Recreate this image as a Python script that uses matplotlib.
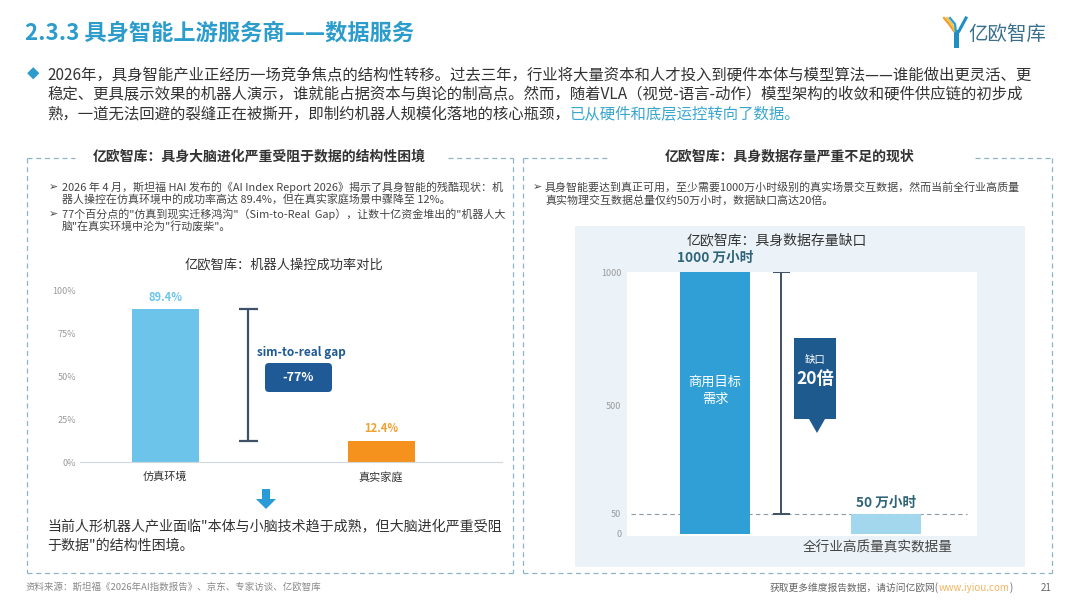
import matplotlib
matplotlib.use('Agg')
import matplotlib.pyplot as plt
import numpy as np
from matplotlib.transforms import Affine2D, blended_transform_factory
from matplotlib.patches import Rectangle, FancyBboxPatch, Polygon
from matplotlib.lines import Line2D

plt.rcParams['font.family'] = ['Noto Sans CJK SC', 'DejaVu Sans']

W, H = 1080, 608

# 左图：机器人操控成功率对比
sim_categories = ['仿真环境', '真实家庭']
sim_values = [89.4, 12.4]
sim_yticks = [0, 25, 50, 75, 100]

# 右图：具身数据存量缺口（万小时）
data_categories = ['商用目标\n需求', '全行业高质量真实数据量']
data_values = [1000, 50]
data_yticks = [0, 50, 500, 1000]

fig = plt.figure(figsize=(10.8, 6.08), dpi=100)
fig.patch.set_facecolor('white')
PX = Affine2D().scale(1 / W, -1 / H).translate(0, 1) + fig.transFigure
renderer = fig.canvas.get_renderer()


def txt(x, y, s, **kw):
    kw.setdefault('va', 'center')
    return fig.text(x, y, s, transform=PX, **kw)


def seq(x, y, pieces, **kw):
    # 依次排列不同颜色的文字片段
    for s, c in pieces:
        t = txt(x, y, s, color=c, ha='left', **kw)
        x += t.get_window_extent(renderer).width
    return x


def hline(x0, x1, y, **kw):
    fig.add_artist(Line2D([x0, x1], [y, y], transform=PX, **kw))


def vline(x, y0, y1, **kw):
    fig.add_artist(Line2D([x, x], [y0, y1], transform=PX, **kw))


def dashed_box(l, t, r, b, g0, g1):
    kw = dict(color='#8fb4c9', lw=0.9, ls=(0, (4, 3)))
    hline(l, g0, t, **kw)
    hline(g1, r, t, **kw)
    hline(l, r, b, **kw)
    vline(l, t, b, **kw)
    vline(r, t, b, **kw)


# 标题与logo
txt(25, 33, '2.3.3 具身智能上游服务商——数据服务', fontsize=16, fontweight='bold', color='#2b9ccb')
fig.add_artist(Rectangle((954, 30), 5, 18, transform=PX, color='#1f8fc2', lw=0))
for dx, c in [(0, '#f29a2e'), (3, '#f6c244'), (6, '#2a9fd6')]:
    fig.add_artist(Line2D([944 + dx, 949 + dx, 954 + dx * 0.3], [18, 24, 31], transform=PX, color=c, lw=1.6))
fig.add_artist(Line2D([966, 959], [18, 31], transform=PX, color='#1f8fc2', lw=2.2))
txt(968, 34, '亿欧智库', fontsize=14, color='#3a6f8c')

# 导语
txt(33, 75, '◆', fontsize=9, color='#2b9ccb', ha='center')
para = dict(fontsize=11.1)
seq(47, 75, [('2026年，具身智能产业正经历一场竞争焦点的结构性转移。过去三年，行业将大量资本和人才投入到硬件本体与模型算法——谁能做出更灵活、更', '#333333')], **para)
seq(47, 95, [('稳定、更具展示效果的机器人演示，谁就能占据资本与舆论的制高点。然而，随着VLA（视觉-语言-动作）模型架构的收敛和硬件供应链的初步成', '#333333')], **para)
seq(47, 114, [('熟，一道无法回避的裂缝正在被撕开，即制约机器人规模化落地的核心瓶颈，', '#333333'),
              ('已从硬件和底层运控转向了数据。', '#3aa6d0')], **para)

# 左侧框
dashed_box(27, 158, 513, 573, 75, 448)
txt(259, 156, '亿欧智库：具身大脑进化严重受阻于数据的结构性困境', fontsize=10, fontweight='bold', color='#333333', ha='center')
small = dict(fontsize=7.9, color='#444444')
for y, s in [(187, '2026 年 4 月，斯坦福 HAI 发布的《AI Index Report 2026》揭示了具身智能的残酷现状：机'),
             (214, '77个百分点的"仿真到现实迁移鸿沟"（Sim-to-Real  Gap），让数十亿资金堆出的"机器人大')]:
    txt(53, y, '➢', ha='center', **small)
    txt(62, y, s, **small)
txt(62, 199, '器人操控在仿真环境中的成功率高达 89.4%，但在真实家庭场景中骤降至 12%。', **small)
txt(62, 226, '脑"在真实环境中沦为"行动废柴"。', **small)
txt(284, 265, '亿欧智库：机器人操控成功率对比', fontsize=9.5, color='#333333', ha='center')

ax1 = fig.add_axes([80 / W, 1 - 462 / H, 422 / W, 171 / H])
x1 = np.arange(len(sim_values))
ax1.bar(x1, sim_values, width=0.31, color=['#6cc4ea', '#f5921e'], zorder=2)
ax1.set_xlim(-0.394, 1.56)
ax1.set_ylim(0, 100)
ax1.set_yticks(sim_yticks)
ax1.set_yticklabels([f'{v}%' for v in sim_yticks])
ax1.set_xticks(x1)
ax1.set_xticklabels(sim_categories)
for s in ['top', 'right', 'left']:
    ax1.spines[s].set_visible(False)
ax1.spines['bottom'].set_color('#cfd8dc')
ax1.tick_params(axis='y', length=0, labelsize=6.5, labelcolor='#9a9a9a', pad=3)
ax1.tick_params(axis='x', length=0, labelsize=8, labelcolor='#333333', pad=7)
ax1.patch.set_alpha(0)
for xi, v, c in zip(x1, sim_values, ['#6cc4ea', '#f0a030']):
    ax1.annotate(f'{v}%', (xi, v), xytext=(0, 4), textcoords='offset points',
                 ha='center', va='bottom', fontsize=8, fontweight='bold', color=c)
gap_x = 0.385
ax1.vlines(gap_x, sim_values[1], sim_values[0], color='#3d5266', lw=1.6)
ax1.hlines([sim_values[1], sim_values[0]], gap_x - 0.044, gap_x + 0.044, color='#3d5266', lw=1.6)
ax1.text(0.524, 0.643, 'sim-to-real gap', transform=ax1.transAxes, ha='center', va='center',
         fontsize=8.5, fontweight='bold', color='#1f5a96')
fig.add_artist(FancyBboxPatch((265, 363), 67, 29, boxstyle='round,pad=0,rounding_size=4',
                              transform=PX, color='#1f5a96', lw=0))
txt(298.5, 377.5, f'-{sim_values[0] - sim_values[1]:.0f}%', fontsize=9, fontweight='bold', color='white', ha='center')

# 向下箭头
fig.add_artist(Polygon([(262, 489), (270, 489), (270, 499), (276, 499), (266, 509), (256, 499), (262, 499)],
                       transform=PX, color='#2a9bd6', lw=0))
txt(47, 527, '当前人形机器人产业面临"本体与小脑技术趋于成熟，但大脑进化严重受阻', fontsize=10.1, color='#333333')
txt(47, 546, '于数据"的结构性困境。', fontsize=10.1, color='#333333')

# 右侧框
dashed_box(523, 158, 1052, 573, 610, 975)
txt(790, 156, '亿欧智库：具身数据存量严重不足的现状', fontsize=10, fontweight='bold', color='#333333', ha='center')
txt(537, 187, '➢', ha='center', **small)
txt(545, 187, '具身智能要达到真正可用，至少需要1000万小时级别的真实场景交互数据，然而当前全行业高质量', **small)
txt(545, 201, '真实物理交互数据总量仅约50万小时，数据缺口高达20倍。', **small)

fig.add_artist(Rectangle((575, 226), 450, 341, transform=PX, color='#ebf3f9', lw=0, zorder=0))
txt(777, 240, '亿欧智库：具身数据存量缺口', fontsize=10, color='#333333', ha='center')

ax2 = fig.add_axes([627 / W, 1 - 536 / H, 350 / W, 264 / H])
knots_v = [-10, 0, 50, 500, 1000, 1100]
knots_p = [-4, 0, 20, 128, 261, 288]
ax2.set_yscale('function', functions=(lambda v: np.interp(v, knots_v, knots_p),
                                      lambda p: np.interp(p, knots_p, knots_v)))
x2 = np.arange(len(data_values))
ax2.bar(x2, data_values, width=0.41, color=['#2f9fd6', '#a2d7ee'], zorder=2)
ax2.set_xlim(-0.515, 1.532)
ax2.set_ylim(-5, 1000)
ax2.set_yticks(data_yticks)
ax2.set_yticklabels([str(v) for v in data_yticks])
ax2.yaxis.set_minor_locator(matplotlib.ticker.NullLocator())
ax2.set_xticks([])
for s in ax2.spines.values():
    s.set_visible(False)
ax2.tick_params(axis='y', length=0, labelsize=6.5, labelcolor='#9a9a9a', pad=4)
ax2.axhline(data_values[1], xmin=0.01, xmax=0.97, color='#8a9aa6', lw=0.8, ls=(0, (4, 3)), zorder=1)
gx = 0.386
ax2.vlines(gx, data_values[1], data_values[0], color='#3d5266', lw=1.4, zorder=3)
ax2.hlines([data_values[1], data_values[0]], gx - 0.05, gx + 0.05, color='#3d5266', lw=1.4, zorder=3)
for xi, v, off in zip(x2, data_values, [5, 3]):
    ax2.annotate(f'{v} 万小时', (xi, v), xytext=(0, off), textcoords='offset points',
                 ha='center', va='bottom', fontsize=9.8, fontweight='bold', color='#2e6378')
bt = blended_transform_factory(ax2.transData, ax2.transAxes)
ax2.text(0, 0.55, data_categories[0], transform=bt, ha='center', va='center', fontsize=9.5,
         color='white', linespacing=1.4, zorder=4)
ax2.text(0.95, -0.045, data_categories[1], transform=bt, ha='center', va='center', fontsize=9.8,
         color='#444444', clip_on=False)

# 缺口标注
fig.add_artist(Polygon([(794, 338), (836, 338), (836, 419), (825, 419), (817, 433), (809, 419), (794, 419)],
                       transform=PX, color='#1f5a8f', lw=0))
txt(815, 360, '缺口', fontsize=7.5, color='white', ha='center')
txt(815, 379, f'{data_values[0] // data_values[1]}倍', fontsize=12.5, fontweight='bold', color='white', ha='center')

# 页脚
txt(25, 587, '资料来源：斯坦福《2026年AI指数报告》、京东、专家访谈、亿欧智库', fontsize=6.8, color='#888888')
foot = [('获取更多维度报告数据，请访问亿欧网(', '#666666'), ('www.iyiou.com', '#f2b561'), (')', '#666666')]
widths = []
for s, c in foot:
    t = fig.text(0, 0, s, fontsize=7)
    widths.append(t.get_window_extent(renderer).width)
    t.remove()
seq(1013 - sum(widths), 588, foot, fontsize=7)
txt(1052, 588, '21', fontsize=7, color='#666666', ha='right')

fig.savefig('out.png', dpi=100)
